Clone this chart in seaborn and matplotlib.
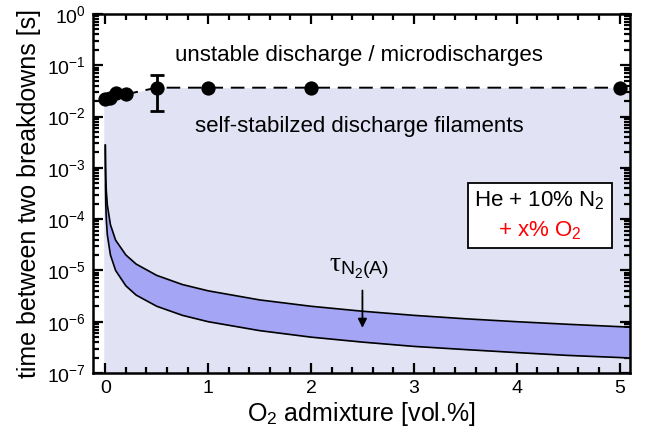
import numpy as np
import pandas as pd
import matplotlib
matplotlib.use("Agg")
import matplotlib.pyplot as plt
import seaborn as sns
from matplotlib.ticker import LogLocator, FixedLocator, NullFormatter

# measured breakdown intervals
o2_pts = [0, 0.05, 0.1, 0.2, 0.5, 1, 2, 5]
t_pts = [0.022, 0.0227, 0.0284, 0.0272, 0.0366, 0.0366, 0.0366, 0.0366]
err_x = 0.5
err_lo = 0.013
err_hi = 0.065

# N2(A) lifetime band
o2_band = [0, 0.002, 0.005, 0.01, 0.02, 0.05, 0.1, 0.2, 0.3, 0.5, 0.75, 1,
           1.5, 2, 2.5, 3, 3.5, 4, 4.5, 5, 5.1]
tau_upper = [2.8e-3, 1.17e-3, 6.2e-4, 3.5e-4, 1.87e-4, 7.8e-5, 3.9e-5, 2.0e-5,
             1.33e-5, 8.0e-6, 5.3e-6, 4.0e-6, 2.66e-6, 2.0e-6, 1.6e-6, 1.33e-6,
             1.14e-6, 1.0e-6, 8.9e-7, 8.0e-7, 7.8e-7]
tau_lower = [2.8e-3, 4.2e-4, 1.87e-4, 9.7e-5, 4.9e-5, 2.0e-5, 1.0e-5, 5.0e-6,
             3.3e-6, 2.0e-6, 1.33e-6, 1.0e-6, 6.7e-7, 5.0e-7, 4.0e-7, 3.3e-7,
             2.86e-7, 2.5e-7, 2.2e-7, 2.0e-7, 1.96e-7]

x_ticks = [0, 1, 2, 3, 4, 5]
y_ticks = [1e-7, 1e-6, 1e-5, 1e-4, 1e-3, 1e-2, 1e-1, 1]

sns.set_style("ticks")
plt.rcParams["font.family"] = ["Liberation Sans", "DejaVu Sans"]
plt.rcParams["mathtext.fontset"] = "custom"
plt.rcParams["mathtext.rm"] = "Liberation Sans"
plt.rcParams["mathtext.it"] = "Liberation Serif"
for k in ["text.color", "axes.labelcolor", "axes.edgecolor", "xtick.color", "ytick.color"]:
    plt.rcParams[k] = "black"

fig = plt.figure(figsize=(6.5, 4.34), dpi=100)
ax = fig.add_axes([0.143, 0.1406, 0.826, 0.8271])

df_pts = pd.DataFrame({"o2": o2_pts, "t": t_pts})
df_band = pd.DataFrame({"o2": o2_band, "up": tau_upper, "lo": tau_lower})

# stable region shading
fill_x = [-0.015] + o2_pts + [5.1]
fill_y = [t_pts[0]] + t_pts + [t_pts[-1]]
ax.fill_between(fill_x, 1e-7, fill_y, color="#e1e2f4", lw=0, zorder=0)

ax.fill_between(df_band["o2"], df_band["lo"], df_band["up"], color="#a4a5f5", lw=0, zorder=1)
sns.lineplot(data=df_band, x="o2", y="up", color="black", lw=1.2, ax=ax, zorder=2)
sns.lineplot(data=df_band, x="o2", y="lo", color="black", lw=1.2, ax=ax, zorder=2)

sns.lineplot(data=df_pts, x="o2", y="t", color="black", lw=1.4, ax=ax,
             dashes=False, linestyle=(0, (7, 4)), zorder=3)
sns.scatterplot(data=df_pts, x="o2", y="t", color="black", s=90, ax=ax,
                edgecolor="black", zorder=4)
ax.errorbar([err_x], [t_pts[4]], yerr=[[t_pts[4] - err_lo], [err_hi - t_pts[4]]],
            fmt="none", ecolor="black", elinewidth=2, capsize=5, capthick=2, zorder=4)

ax.set_yscale("log")
ax.set_xlim(-0.12, 5.1)
ax.set_ylim(1e-7, 1)
ax.set_xticks(x_ticks)
ax.xaxis.set_minor_locator(FixedLocator(np.arange(0, 5.1, 0.2)))
ax.set_yticks(y_ticks)
ax.yaxis.set_minor_locator(LogLocator(base=10, subs=np.arange(2, 10), numticks=20))
ax.yaxis.set_minor_formatter(NullFormatter())
ax.tick_params(which="both", direction="in", top=True, right=True, width=1.6)
ax.tick_params(which="major", length=7, labelsize=14, pad=5)
ax.tick_params(which="minor", length=4)
for s in ax.spines.values():
    s.set_linewidth(1.8)

ax.set_xlabel("O$_2$ admixture [vol.%]", fontsize=18, labelpad=2)
ax.set_ylabel("time between two breakdowns [s]", fontsize=18, labelpad=4)

ax.text(2.47, 0.158, "unstable discharge / microdischarges", ha="center", va="center", fontsize=16)
ax.text(2.47, 0.0063, "self-stabilzed discharge filaments", ha="center", va="center", fontsize=16)
ax.text(2.47, 1.12e-5, r"$\tau_{\mathrm{N_2(A)}}$", ha="center", va="center", fontsize=20)
ax.annotate("", xy=(2.5, 6.7e-7), xytext=(2.5, 4.6e-6),
            arrowprops=dict(arrowstyle="-|>", color="black", lw=1.3, mutation_scale=13))

ax.add_patch(plt.Rectangle((0.698, 0.348), 0.268, 0.181, transform=ax.transAxes,
                           facecolor="white", edgecolor="black", lw=1.3, zorder=5))
ax.text(0.832, 0.482, "He + 10% N$_2$", transform=ax.transAxes, ha="center", va="center",
        fontsize=16, zorder=6)
ax.text(0.832, 0.398, "+ x% O$_2$", transform=ax.transAxes, ha="center", va="center",
        fontsize=16, color="red", zorder=6)

fig.savefig("out.png", dpi=100)
